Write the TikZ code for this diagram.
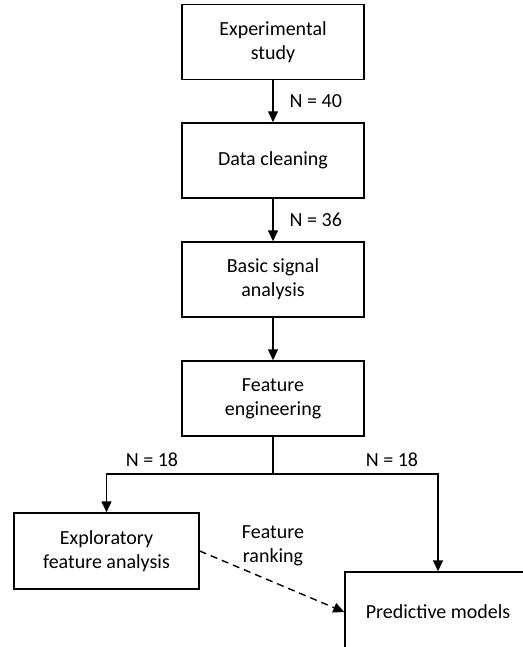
\documentclass[tikz,border=0pt]{standalone}
\usepackage{fontspec}
\setmainfont{Carlito}
\usetikzlibrary{arrows.meta}
\tikzstyle{box}=[rectangle, draw, line width=1.4pt, align=center, inner sep=0pt, minimum width=182pt, minimum height=75pt, font=\fontsize{20}{24}\selectfont]
\tikzstyle{lab}=[inner sep=0pt, align=center, font=\fontsize{20}{24}\selectfont]
\tikzstyle{flow}=[line width=1.4pt, -{Triangle[length=11pt,width=10pt]}]
\tikzstyle{joint}=[line width=1.4pt]
\begin{document}
\begin{tikzpicture}[x=1pt,y=-1pt]
				\useasboundingbox (0,0) rectangle (522,647);
				\node[box] (study) at (273,42) {Experimental\\study};
				\node[box] (clean) at (273,160.5) {Data cleaning};
				\node[box] (signal) at (273,279.5) {Basic signal\\analysis};
				\node[box] (feat) at (273,398.5) {Feature\\engineering};
				\node[box, minimum width=185pt, minimum height=76pt] (explore) at (106.5,551) {Exploratory\\feature analysis};
				\node[box, minimum width=186pt, minimum height=80pt] (predict) at (438,612) {Predictive models};
				
				
				\draw[flow] (study) -- node[lab, right=16pt] (n40) {N = 40} (clean);
				\draw[flow] (clean) -- node[lab, right=16pt] (n36) {N = 36} (signal);
				\draw[flow] (signal) -- (feat);
				
				\coordinate (split) at (273,474);
				\draw[joint] (feat) -- (split);
				\draw[flow] (split) -| (explore);
				\draw[flow] (split) -| (predict);
				\draw[flow, dash pattern=on 7pt off 5pt] (explore.east) -- (predict.west);
				
				
                \node[lab] (nleft) at (152,460) {N = 18};
                \node[lab] (nright) at (392,460) {N = 18};
                \node[lab] (rank) at (273,546) {Feature\\ranking};
			\end{tikzpicture}
\end{document}
